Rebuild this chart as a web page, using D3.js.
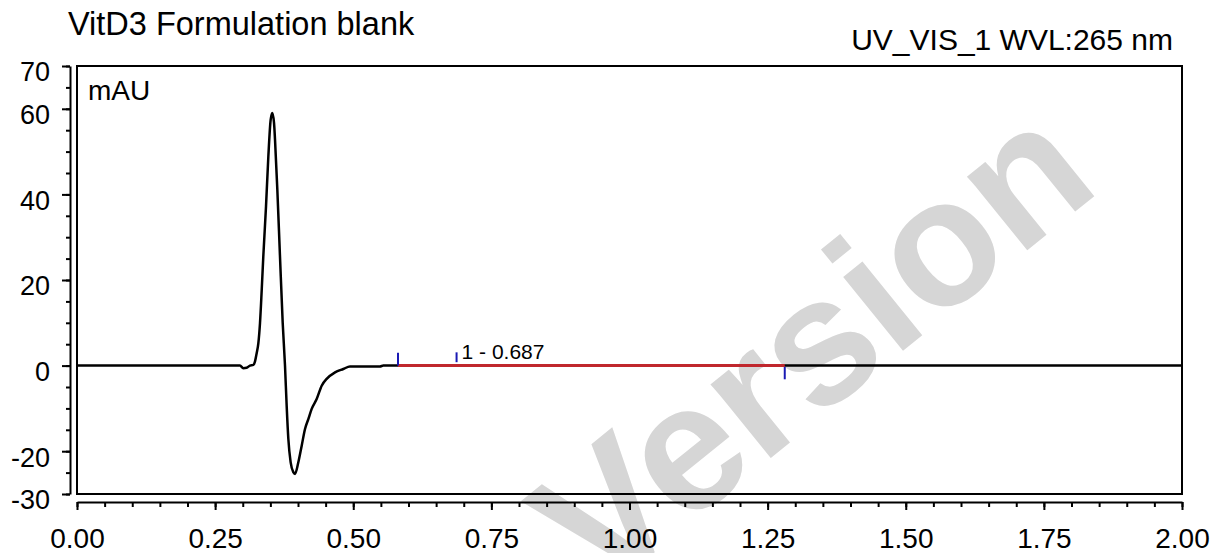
<!DOCTYPE html>
<html>
  <head>
    <meta charset="UTF-8">
    <script src="https://d3js.org/d3.v7.min.js"></script>
    <style>
        body { margin: 0; background: #fff; }
        * { font-family: "Liberation Sans", Arial, sans-serif; }
        svg { display: block; }
        .axis text { fill: #000; }
        .axis path, .axis line { stroke: #000; stroke-width: 2px; }
    </style>
  </head>
  <body>
    <script>
        // retention time (min) and signal (mAU)
        let times = [0, 0.2950, 0.3010, 0.3071, 0.3131, 0.3191, 0.3222, 0.3252, 0.3282, 0.3312,
            0.3343, 0.3372, 0.3421, 0.3463, 0.3505, 0.3535, 0.3566, 0.3584, 0.3626, 0.3674,
            0.3723, 0.3765, 0.3795, 0.3825, 0.3867, 0.3915, 0.3946, 0.4006, 0.4067, 0.4127,
            0.4187, 0.4248, 0.4338, 0.4429, 0.4519, 0.4670, 0.4820, 0.4941, 0.5484, 0.5544, 2.0]
        let signal = [0, 0, -0.6, -0.5, 0, 0.15, 1.0, 2.9, 5.2, 9.9,
            17.6, 25.5, 37.2, 48.8, 57.4, 59.0, 56.7, 52.8, 41.1, 25.5,
            10.0, -0.1, -9.4, -17.1, -22.6, -24.9, -25.3, -22.6, -18.7, -14.8,
            -12.5, -10.1, -7.8, -4.7, -3.1, -1.6, -0.8, -0.2, -0.2, 0, 0]

        // integrated peak: start, retention, end
        let peakStart = 0.581, peakRet = 0.687, peakEnd = 1.281
        let peakLabel = '1 - 0.687'

        let yMajor = [70, 60, 40, 20, 0, -20, -30]
        let yMinor = d3.range(-30, 71, 5)
        let xMajor = [0, 0.25, 0.5, 0.75, 1.0, 1.25, 1.5, 1.75, 2.0]
        let xMinor = d3.range(0, 2.001, 0.05)

        let chartTitle = 'VitD3 Formulation blank'
        let channelTitle = 'UV_VIS_1 WVL:265 nm'
        let unitLabel = 'mAU'
        let watermark = 'Version'

        let svgWidth = 1224, svgHeight = 553
        let box = {left: 77, right: 1182, top: 66, bottom: 494}

        let x = d3.scaleLinear().domain([0, 2]).range([box.left, box.right])
        let y = d3.scaleLinear().domain([-30, 70]).range([box.bottom, box.top])

        let svg = d3.select('body').append('svg')
            .attr('width', svgWidth)
            .attr('height', svgHeight)

        // watermark sits behind everything
        svg.append('text')
            .attr('transform', 'translate(811, 345) rotate(-39)')
            .attr('text-anchor', 'middle')
            .attr('dominant-baseline', 'central')
            .style('font-size', '180px')
            .style('font-weight', 'bold')
            .style('fill', '#d6d6d6')
            .text(watermark)

        svg.append('text')
            .attr('x', 68).attr('y', 35)
            .style('font-size', '32.5px')
            .text(chartTitle)

        svg.append('text')
            .attr('x', 1173).attr('y', 50)
            .attr('text-anchor', 'end')
            .style('font-size', '30px')
            .text(channelTitle)

        svg.append('rect')
            .attr('x', box.left).attr('y', box.top)
            .attr('width', box.right - box.left)
            .attr('height', box.bottom - box.top)
            .attr('fill', 'none')
            .attr('stroke', '#000')
            .attr('stroke-width', 2)

        svg.append('text')
            .attr('x', 88).attr('y', 100)
            .style('font-size', '28px')
            .text(unitLabel)

        // y axis, detached from the box
        let yAxisX = 70
        svg.append('g')
            .attr('class', 'axis')
            .attr('transform', `translate(${yAxisX}, 0)`)
            .call(d3.axisLeft(y).tickValues(yMinor).tickSize(4).tickSizeOuter(0).tickFormat(''))
        let yAx = svg.append('g')
            .attr('class', 'axis')
            .attr('transform', `translate(${yAxisX}, 0)`)
            .call(d3.axisLeft(y).tickValues(yMajor).tickSize(8).tickSizeOuter(0).tickPadding(12).tickFormat(d => String(d)))
        yAx.selectAll('text')
            .style('font-size', '27px')
            .attr('dy', '0.55em')
        yAx.select('.domain').remove()

        // x axis, detached from the box
        let xAxisY = 502
        svg.append('g')
            .attr('class', 'axis')
            .attr('transform', `translate(0, ${xAxisY})`)
            .call(d3.axisBottom(x).tickValues(xMinor).tickSize(5).tickSizeOuter(0).tickFormat(''))
        let xAx = svg.append('g')
            .attr('class', 'axis')
            .attr('transform', `translate(0, ${xAxisY})`)
            .call(d3.axisBottom(x).tickValues(xMajor).tickSize(8).tickSizeOuter(0).tickPadding(18).tickFormat(d3.format('.2f')))
        xAx.selectAll('text')
            .style('font-size', '28px')
        xAx.select('.domain').remove()

        // chromatogram trace
        let line = d3.line()
            .x((d, i) => x(times[i]))
            .y(d => y(d))
            .curve(d3.curveMonotoneX)

        svg.append('path')
            .datum(signal)
            .attr('d', line)
            .attr('fill', 'none')
            .attr('stroke', '#000')
            .attr('stroke-width', 2.5)

        // integration baseline
        svg.append('line')
            .attr('x1', x(peakStart)).attr('x2', x(peakEnd))
            .attr('y1', y(0)).attr('y2', y(0))
            .attr('stroke', '#c0272d')
            .attr('stroke-width', 3)

        let markers = [
            {t: peakStart, a: 0, b: 3},
            {t: peakRet, a: 0.8, b: 3.1},
            {t: peakEnd, a: -0.3, b: -3.2}
        ]
        svg.selectAll('.marker')
            .data(markers)
            .enter()
            .append('line')
            .attr('class', 'marker')
            .attr('x1', d => x(d.t)).attr('x2', d => x(d.t))
            .attr('y1', d => y(d.a)).attr('y2', d => y(d.b))
            .attr('stroke', '#1a1ab4')
            .attr('stroke-width', 2)

        svg.append('text')
            .attr('x', x(peakRet) + 5)
            .attr('y', y(1.5))
            .style('font-size', '21px')
            .text(peakLabel)
    </script>
  </body>
</html>
